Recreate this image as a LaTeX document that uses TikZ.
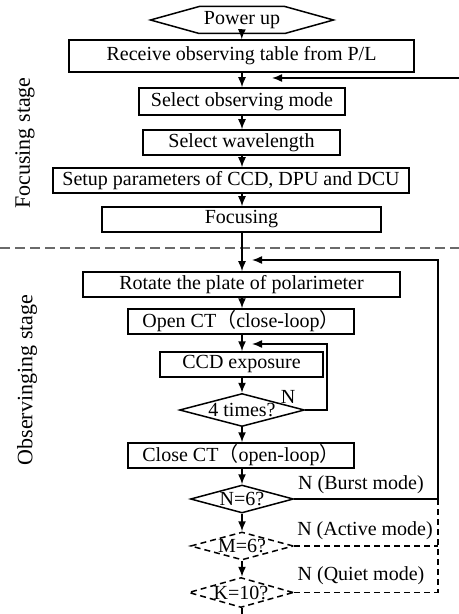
\documentclass[tikz,border=0pt]{standalone}
\usepackage{fontspec}
\setmainfont{Liberation Serif}
\newfontfamily\cjk{Noto Sans CJK SC}
\usetikzlibrary{arrows.meta,shapes.geometric,shapes.symbols}
\definecolor{sepgray}{HTML}{6A6A6A}

\tikzset{
  stepbox/.style={draw, line width=0.75pt, inner sep=0pt, minimum height=12.5pt},
  testbox/.style={draw, diamond, line width=0.75pt, inner sep=0pt, aspect=3.7},
  guessbox/.style={testbox, dash pattern=on 3pt off 2pt},
  flow/.style={line width=0.75pt, -{Latex[length=5pt,width=4pt]}},
  guessline/.style={line width=0.75pt, dash pattern=on 3pt off 2pt},
  sepline/.style={line width=1pt, sepgray, dash pattern=on 5pt off 2.5pt},
  stagelabel/.style={rotate=90, font=\fontsize{11}{13}\selectfont}
}

\begin{document}
\begin{tikzpicture}[x=0.5pt, y=-0.5pt, every node/.style={font=\fontsize{10}{12}\selectfont}]
  \useasboundingbox (0,0) rectangle (459,614);

  \node[draw, line width=0.75pt, signal, signal to=west and east, signal pointer angle=31, inner sep=0pt, minimum width=91.5pt, minimum height=13.5pt] (power) at (242,20) {Power up};
  \node[stepbox, minimum width=172.5pt, minimum height=16pt] (receive) at (241.5,56) {Receive observing table from P/L};
  \node[stepbox, minimum width=103pt, minimum height=13.5pt] (mode) at (242,101.5) {Select observing mode};
  \node[stepbox, minimum width=98.5pt] (wave) at (241.5,142.5) {Select wavelength};
  \node[stepbox, minimum width=178pt] (setup) at (231,180.5) {Setup parameters of CCD, DPU and DCU};
  \node[stepbox, minimum width=139.5pt] (focus) at (241.5,219.5) {Focusing};

  \node[stepbox, minimum width=158.5pt] (rotate) at (241.5,284.5) {Rotate the plate of polarimeter};
  \node[stepbox, minimum width=113pt] (open) at (241,321.5) {Open CT{\cjk （}close-loop{\cjk ）}};
  \node[stepbox, minimum width=81.5pt] (ccd) at (241.5,364.5) {CCD exposure};
  \node[testbox, minimum width=62.5pt, minimum height=16.5pt, aspect=3.8] (four) at (242,410) {4 times?};
  \node[stepbox, minimum width=113pt] (close) at (241,455.5) {Close CT{\cjk （}open-loop{\cjk ）}};
  \node[testbox, minimum width=51.5pt, minimum height=14pt] (nsix) at (242,499) {N=6?};
  \node[guessbox, minimum width=51.5pt, minimum height=14pt] (msix) at (242,546) {M=6?};
  \node[guessbox, minimum width=50pt, minimum height=15pt] (kten) at (241,592.5) {K=10?};

  \node (nfour) at (288,397) {N};
  \node (burst) at (361,485) {N (Burst mode)};
  \node (active) at (365,531) {N (Active mode)};
  \node (quiet) at (361,576) {N (Quiet mode)};

  \node[stagelabel] (focstage) at (25,143) {Focusing stage};
  \node[stagelabel] (obsstage) at (27,380) {Observinging stage};

  \coordinate (sepl) at (0,248);
  \coordinate (sepr) at (459,248);
  \draw[sepline] (sepl) -- (sepr);

  \coordinate (entry) at (459,78);
  \coordinate (entryend) at (272,78);
  \coordinate (backtop) at (438,260);
  \coordinate (rotatein) at (252,260);
  \coordinate (fourtop) at (327,344);
  \coordinate (ccdin) at (252,344);
  \coordinate (tail) at (242,614);

  \draw[flow] (power) -- (receive);
  \draw[flow] (receive.south -| mode) -- (mode);
  \draw[flow] (mode) -- (wave.north -| mode);
  \draw[flow] (wave.south -| mode) -- (setup.north -| mode);
  \draw[flow] (setup.south -| mode) -- (focus.north -| mode);
  \draw[flow] (focus.south -| mode) -- (rotate.north -| mode);
  \draw[flow] (rotate.south -| mode) -- (open.north -| mode);
  \draw[flow] (open.south -| mode) -- (ccd.north -| mode);
  \draw[flow] (ccd.south -| mode) -- (four);
  \draw[flow] (four) -- (close.north -| four);
  \draw[flow] (close.south -| four) -- (nsix);
  \draw[flow] (nsix) -- (msix);
  \draw[flow] (msix) -- (kten.north -| msix);
  \draw[line width=0.75pt] (kten.south -| msix) -- (tail);

  \draw[flow] (entry) -- (entryend);
  \draw[flow] (four.east) -| (fourtop) -- (ccdin);
  \draw[flow] (nsix.east) -| (backtop) -- (rotatein);
  \draw[guessline] (nsix.east -| backtop) -- (kten.east -| backtop);
  \draw[guessline] (msix.east) -- (msix.east -| backtop);
  \draw[guessline] (kten.east) -- (kten.east -| backtop);
\end{tikzpicture}
\end{document}
